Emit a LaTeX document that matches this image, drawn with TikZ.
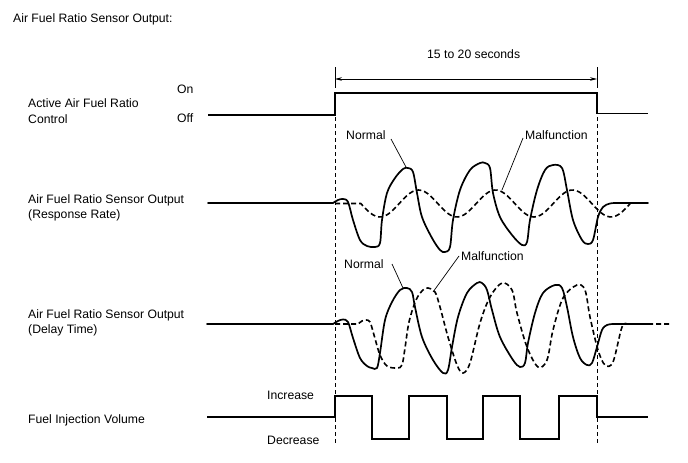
\documentclass[tikz,border=0pt]{standalone}
\usepackage{fontspec}
\setmainfont{Liberation Sans}
\usetikzlibrary{arrows.meta}
\begin{document}
\begin{tikzpicture}[x=1pt,y=-1pt,
  lbl/.style={anchor=base west, inner sep=0pt, font=\fontsize{12.2}{14}\selectfont},
  sig/.style={line width=1.8pt, line join=miter},
  wave/.style={line width=1.7pt, line join=round, line cap=round},
  dwave/.style={line width=1.6pt, dash pattern=on 5pt off 3pt},
  guide/.style={line width=0.8pt, dash pattern=on 4pt off 3pt},
  tick/.style={line width=0.8pt},
  leader/.style={line width=0.7pt},
  dim/.style={line width=0.7pt, {Stealth[length=7pt,width=3.6pt]}-{Stealth[length=7pt,width=3.6pt]}},
]
\useasboundingbox (0,0) rectangle (688,463);

% texts
\node[lbl] (title) at (13,22) {Air Fuel Ratio Sensor Output:};
\node[lbl] (on)  at (177,93) {On};
\node[lbl] (off) at (177,122) {Off};
\node[lbl] (aa1) at (28,107) {Active Air Fuel Ratio};
\node[lbl] (aa2) at (28,123) {Control};
\node[lbl] (rr1) at (28,203) {Air Fuel Ratio Sensor Output};
\node[lbl] (rr2) at (28,218) {(Response Rate)};
\node[lbl] (dt1) at (28,318.5) {Air Fuel Ratio Sensor Output};
\node[lbl] (dt2) at (28,333) {(Delay Time)};
\node[lbl] (fi)  at (28,423) {Fuel Injection Volume};
\node[lbl] (inc) at (267,399) {Increase};
\node[lbl] (dec) at (267,444) {Decrease};
\node[lbl] (sec) at (427,58) {15 to 20 seconds};
\node[lbl] (rn)  at (346,139) {Normal};
\node[lbl] (rm)  at (525,139) {Malfunction};
\node[lbl] (dn)  at (344,268) {Normal};
\node[lbl] (dm)  at (461,260) {Malfunction};

% dimension ticks and arrow
\coordinate (t1a) at (335,67); \coordinate (t1b) at (335,88);
\coordinate (t2a) at (597,67); \coordinate (t2b) at (597,88);
\draw[tick] (t1a) -- (t1b);
\draw[tick] (t2a) -- (t2b);
\coordinate (d1) at (335,79); \coordinate (d2) at (597,79);
\draw[dim] (d1) -- (d2);

% guides
\coordinate (g1a) at (335,117); \coordinate (g1b) at (335,445);
\coordinate (g2a) at (597,117); \coordinate (g2b) at (597,445);
\draw[guide] (g1a) -- (g1b);
\draw[guide] (g2a) -- (g2b);

% active control signal
\draw[sig] (208,115) -- (335,115) -- (335,93) -- (597,93) -- (597,113.5) -- (648,113.5);

% fuel injection
\draw[sig] (207,417) -- (335,417) -- (335,396) -- (372,396) -- (372,439) -- (409,439) -- (409,396)
  -- (447,396) -- (447,439) -- (483,439) -- (483,396) -- (520,396) -- (520,439) -- (559,439)
  -- (559,396) -- (597,396) -- (597,417) -- (648,417);

% response rate: malfunction (dashed)
\draw[dwave] (335,203.5) -- (360.75,203.5) -- plot[domain=360.75:631.25, samples=90]
  (\x, {203.5+13.5*cos(4.6753*(\x-380))});
% response rate: normal
\draw[wave] (208,203) -- (333,203) -- plot[smooth, tension=0.55] coordinates {
  (333,203) (338,200) (343,199) (348,202) (353,220) (360,240) (367,246) (375,247) (380,243)
  (382,220) (387,193) (395,178) (403,169) (408,168) (413,172) (417,193) (422,217) (432,238)
  (440,250) (445,252) (450,247) (453,220) (460,190) (470,170) (480,163) (485,163) (490,168)
  (493,193) (500,217) (512,235) (522,245) (527,242) (530,220) (537,190) (545,170) (553,165)
  (562,168) (567,190) (573,220) (582,240) (588,244) (593,240) (598,217) (603,207) (610,203.5)
  (617,203)} -- (648,203);

% delay time: malfunction (dashed)
\draw[dwave] (335,324) -- (358,324) -- plot[smooth, tension=0.55] coordinates {
  (358,324) (362,321) (366,320) (370,322) (374,335) (380,355) (387,366) (397,368) (402,365)
  (405,348) (409,322) (416,300) (423,290) (428,288) (435,292) (440,307) (448,337) (457,365)
  (463,373) (470,363) (480,323) (490,297) (502,283) (512,290) (517,313) (527,347) (538,367)
  (547,360) (553,330) (563,298) (577,285) (585,290) (590,317) (598,350) (605,365) (613,362)
  (622,327) (628,324) (634,324)} -- (670,324);
% delay time: normal
\draw[wave] (207,324) -- (333,324) -- plot[smooth, tension=0.55] coordinates {
  (333,324) (338,321) (343,319.5) (348,322) (353,338) (360,358) (367,366) (372,368) (377,368)
  (380,353) (385,320) (392,302) (400,290) (407,288) (412,292) (415,307) (422,337) (433,360)
  (443,373) (448,370) (452,347) (458,317) (467,293) (477,283) (482,283) (487,290) (492,310)
  (500,337) (513,360) (520,367) (525,363) (528,343) (535,313) (543,293) (555,285) (562,288)
  (567,307) (573,337) (580,358) (587,365) (592,363) (597,347) (602,330) (607,325) (613,324)
  (618,324)} -- (652,324);

% leaders
\coordinate (rnl) at (391,139); \coordinate (rnw) at (406,167);
\coordinate (rml) at (523,138); \coordinate (rmw) at (502,190);
\coordinate (dnl) at (392,264); \coordinate (dnw) at (403,288);
\coordinate (dml) at (459,256); \coordinate (dmw) at (433,292);
\draw[leader] (rnl) -- (rnw);
\draw[leader] (rml) -- (rmw);
\draw[leader] (dnl) -- (dnw);
\draw[leader] (dml) -- (dmw);
\end{tikzpicture}
\end{document}
